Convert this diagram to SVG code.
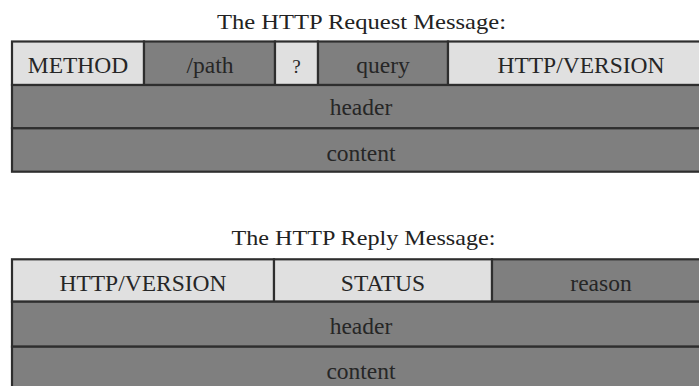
<svg xmlns="http://www.w3.org/2000/svg" width="699" height="386" viewBox="0 0 699 386">
  <style>
    .title { font-family: "Liberation Serif", "DejaVu Serif", serif; font-size: 21px; fill: #222; }
    .lbl { font-family: "Liberation Serif", "DejaVu Serif", serif; font-size: 23.5px; fill: #262626; text-anchor: middle; }
    .light { fill: #e0e0e0; stroke: #2e2e2e; stroke-width: 2.2; }
    .dark { fill: #7f7f7f; stroke: #2e2e2e; stroke-width: 2.2; }
  </style>
  <rect width="699" height="386" fill="#ffffff"/>

  <!-- Request message layout -->
  <text class="title" x="217" y="28.5" textLength="289" lengthAdjust="spacingAndGlyphs">The HTTP Request Message:</text>
  <g id="req-method">
    <rect class="light" x="12" y="41.5" width="132" height="43.5"/>
    <text class="lbl" x="78" y="72.5">METHOD</text>
  </g>
  <g id="req-path">
    <rect class="dark" x="144" y="41.5" width="131" height="43.5"/>
    <text class="lbl" x="210" y="72.5">/path</text>
  </g>
  <g id="req-qmark">
    <rect class="light" x="275" y="41.5" width="43" height="43.5"/>
    <text class="lbl" x="296.5" y="72.5" style="font-size:19px">?</text>
  </g>
  <g id="req-query">
    <rect class="dark" x="318" y="41.5" width="130" height="43.5"/>
    <text class="lbl" x="383" y="72.5">query</text>
  </g>
  <g id="req-version">
    <rect class="light" x="448" y="41.5" width="266" height="43.5"/>
    <text class="lbl" x="581" y="72.5">HTTP/VERSION</text>
  </g>
  <g id="req-header">
    <rect class="dark" x="12" y="85" width="702" height="43.3"/>
    <text class="lbl" x="361" y="115">header</text>
  </g>
  <g id="req-content">
    <rect class="dark" x="12" y="128.3" width="702" height="43.4"/>
    <text class="lbl" x="361" y="161">content</text>
  </g>

  <!-- Reply message layout -->
  <text class="title" x="231.5" y="245" textLength="264" lengthAdjust="spacingAndGlyphs">The HTTP Reply Message:</text>
  <g id="rep-version">
    <rect class="light" x="12" y="259.3" width="262" height="42.4"/>
    <text class="lbl" x="143" y="290.5">HTTP/VERSION</text>
  </g>
  <g id="rep-status">
    <rect class="light" x="274" y="259.3" width="218" height="42.4"/>
    <text class="lbl" x="383" y="290.5">STATUS</text>
  </g>
  <g id="rep-reason">
    <rect class="dark" x="492" y="259.3" width="222" height="42.4"/>
    <text class="lbl" x="601" y="290.5">reason</text>
  </g>
  <g id="rep-header">
    <rect class="dark" x="12" y="301.7" width="702" height="45"/>
    <text class="lbl" x="361" y="333.5">header</text>
  </g>
  <g id="rep-content">
    <rect class="dark" x="12" y="346.7" width="702" height="50"/>
    <text class="lbl" x="361" y="378.5">content</text>
  </g>
</svg>
